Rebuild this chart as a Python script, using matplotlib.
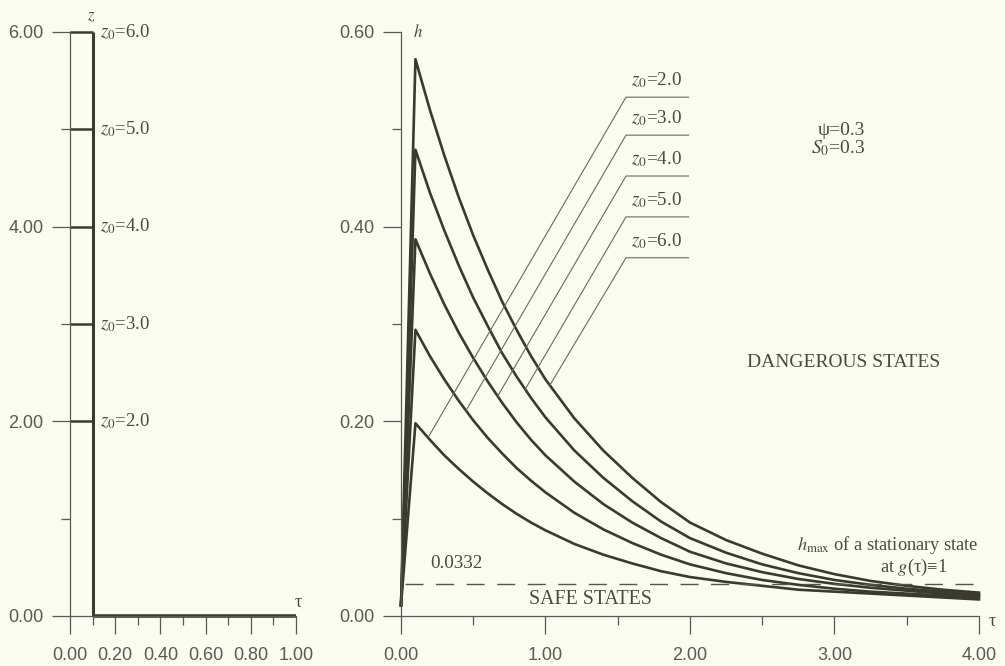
import matplotlib
matplotlib.use("Agg")
import matplotlib.pyplot as plt
from matplotlib.ticker import MultipleLocator, FormatStrFormatter

plt.rcParams["font.family"] = ["Liberation Sans", "DejaVu Sans"]
plt.rcParams["mathtext.fontset"] = "stix"

# --- left panel: initial depth profile ---
z0_levels = [2.0, 3.0, 4.0, 5.0, 6.0]
z0_labels = ["2.0", "3.0", "4.0", "5.0", "6.0"]
tau_front = 0.1

# --- right panel: h(tau) for each z0 ---
tau_pts = [0.0, 0.1, 0.2, 0.3, 0.4, 0.5, 0.6, 0.7, 0.8, 0.9, 1.0,
           1.2, 1.4, 1.6, 1.8, 2.0, 2.25, 2.5, 2.75, 3.0, 3.25, 3.5, 3.75, 4.0]
h_z2 = [0.011, 0.198, 0.181, 0.165, 0.151, 0.138, 0.126, 0.115, 0.105, 0.096, 0.088,
        0.074, 0.063, 0.054, 0.046, 0.040, 0.035, 0.031, 0.027, 0.025, 0.023, 0.021, 0.019, 0.017]
h_z3 = [0.011, 0.294, 0.267, 0.243, 0.221, 0.201, 0.183, 0.167, 0.152, 0.139, 0.127,
        0.106, 0.089, 0.075, 0.063, 0.053, 0.044, 0.037, 0.032, 0.028, 0.025, 0.023, 0.021, 0.019]
h_z4 = [0.011, 0.387, 0.352, 0.320, 0.291, 0.265, 0.241, 0.219, 0.199, 0.181, 0.165,
        0.138, 0.115, 0.096, 0.080, 0.066, 0.054, 0.045, 0.038, 0.033, 0.029, 0.026, 0.023, 0.021]
h_z5 = [0.011, 0.479, 0.435, 0.396, 0.360, 0.327, 0.298, 0.270, 0.246, 0.224, 0.204,
        0.170, 0.142, 0.118, 0.097, 0.080, 0.065, 0.053, 0.044, 0.037, 0.032, 0.028, 0.025, 0.022]
h_z6 = [0.011, 0.572, 0.520, 0.473, 0.430, 0.391, 0.356, 0.323, 0.294, 0.267, 0.243,
        0.203, 0.170, 0.142, 0.117, 0.096, 0.078, 0.064, 0.052, 0.043, 0.036, 0.031, 0.027, 0.024]
h_curves = [h_z2, h_z3, h_z4, h_z5, h_z6]

h_stationary = 0.0332
dash_tau = [0.03, 4.0]

# leader lines from curve label to curve
leader_tip_tau = [0.19, 0.45, 0.67, 0.86, 1.03]
leader_tip_h = [0.184, 0.211, 0.226, 0.233, 0.237]
leader_elbow_h = [0.533, 0.494, 0.452, 0.410, 0.368]
leader_elbow_tau = 1.557
leader_end_tau = 1.99

BG = "#fafbf1"
INK = "#3a3a30"
TXT = "#4a4a40"
TICK = "#5a5a52"
SERIF = ["Liberation Serif", "DejaVu Serif"]

fig = plt.figure(figsize=(10.05, 6.66), dpi=100, facecolor=BG)
axL = fig.add_axes([0.0697, 0.0751, 0.2249, 0.8769])
axR = fig.add_axes([0.3990, 0.0751, 0.5751, 0.8769])

for ax in (axL, axR):
    ax.set_facecolor("none")
    ax.spines["top"].set_visible(False)
    ax.spines["right"].set_visible(False)
    for s in ("left", "bottom"):
        ax.spines[s].set_color(TICK)
        ax.spines[s].set_linewidth(0.9)
    ax.tick_params(which="major", direction="out", length=13, width=0.9,
                   color=TICK, labelcolor=TICK, labelsize=13)
    ax.tick_params(which="minor", direction="out", length=6.5, width=0.9, color=TICK)
    ax.tick_params(axis="x", which="major", pad=9)
    ax.tick_params(axis="y", which="major", pad=6)

# left panel
axL.set_xlim(0, 1.0)
axL.set_ylim(0, 6.0)
axL.xaxis.set_major_locator(MultipleLocator(0.2))
axL.xaxis.set_minor_locator(MultipleLocator(0.1))
axL.yaxis.set_major_locator(MultipleLocator(2.0))
axL.yaxis.set_minor_locator(MultipleLocator(1.0))
axL.xaxis.set_major_formatter(FormatStrFormatter("%.2f"))
axL.yaxis.set_major_formatter(FormatStrFormatter("%.2f"))

axL.plot([tau_front, tau_front], [0, z0_levels[-1]], color=INK, lw=2.2,
         clip_on=False, solid_capstyle="butt")
axL.plot([tau_front, 1.0], [0, 0], color=INK, lw=2.6, clip_on=False,
         solid_capstyle="butt")
for z, lab in zip(z0_levels, z0_labels):
    axL.plot([0, tau_front], [z, z], color=INK, lw=1.8, clip_on=False,
             solid_capstyle="butt")
    axL.text(0.133, z, "$z_0$=" + lab, family=SERIF, fontsize=13.5,
             color=TXT, ha="left", va="center")
axL.text(0.093, 6.16, "$z$", fontsize=12, color=TXT, ha="center", va="center")
axL.text(1.01, 0.14, "τ", family=SERIF, fontsize=13, color=TXT,
         ha="center", va="center")

# right panel
axR.set_xlim(0, 4.0)
axR.set_ylim(0, 0.6)
axR.xaxis.set_major_locator(MultipleLocator(1.0))
axR.xaxis.set_minor_locator(MultipleLocator(0.5))
axR.yaxis.set_major_locator(MultipleLocator(0.2))
axR.yaxis.set_minor_locator(MultipleLocator(0.1))
axR.xaxis.set_major_formatter(FormatStrFormatter("%.2f"))
axR.yaxis.set_major_formatter(FormatStrFormatter("%.2f"))

for h in h_curves:
    axR.plot(tau_pts, h, color=INK, lw=1.9, clip_on=False)

axR.plot(dash_tau, [h_stationary, h_stationary], color="#55554a", lw=1.0,
         dashes=(13, 9))

for i, lab in enumerate(z0_labels):
    axR.plot([leader_tip_tau[i], leader_elbow_tau, leader_end_tau],
             [leader_tip_h[i], leader_elbow_h[i], leader_elbow_h[i]],
             color="#6a6a5c", lw=0.8)
    axR.text(1.945, leader_elbow_h[i] + 0.017, "$z_0$=" + lab, family=SERIF,
             fontsize=13.8, color=TXT, ha="right", va="center")

axR.text(0.12, 0.600, "$h$", fontsize=12, color=TXT, ha="center", va="center")
axR.text(4.09, -0.006, "τ", family=SERIF, fontsize=13, color=TXT,
         ha="center", va="center", clip_on=False)

axR.text(3.21, 0.499, "ψ=0.3", family=SERIF, fontsize=14, color=TXT,
         ha="right", va="center")
axR.text(3.21, 0.481, "$S_0$=0.3", family=SERIF, fontsize=14, color=TXT,
         ha="right", va="center")
axR.text(3.06, 0.26, "DANGEROUS STATES", family=SERIF, fontsize=14, color=TXT,
         ha="center", va="center")
axR.text(1.31, 0.0165, "SAFE STATES", family=SERIF, fontsize=14.3, color=TXT,
         ha="center", va="center")
axR.text(0.38, 0.054, "0.0332", family=SERIF, fontsize=13.8, color=TXT,
         ha="center", va="center")
axR.text(4.0, 0.0725, r"$h_{\rm max}$ of a stationary state", family=SERIF,
         fontsize=13.2, color=TXT, ha="right", va="center")
axR.text(3.78, 0.0495, "at $g$(τ)≡1", family=SERIF, fontsize=13.2,
         color=TXT, ha="right", va="center")

fig.savefig("out.png", dpi=100, facecolor=BG)
